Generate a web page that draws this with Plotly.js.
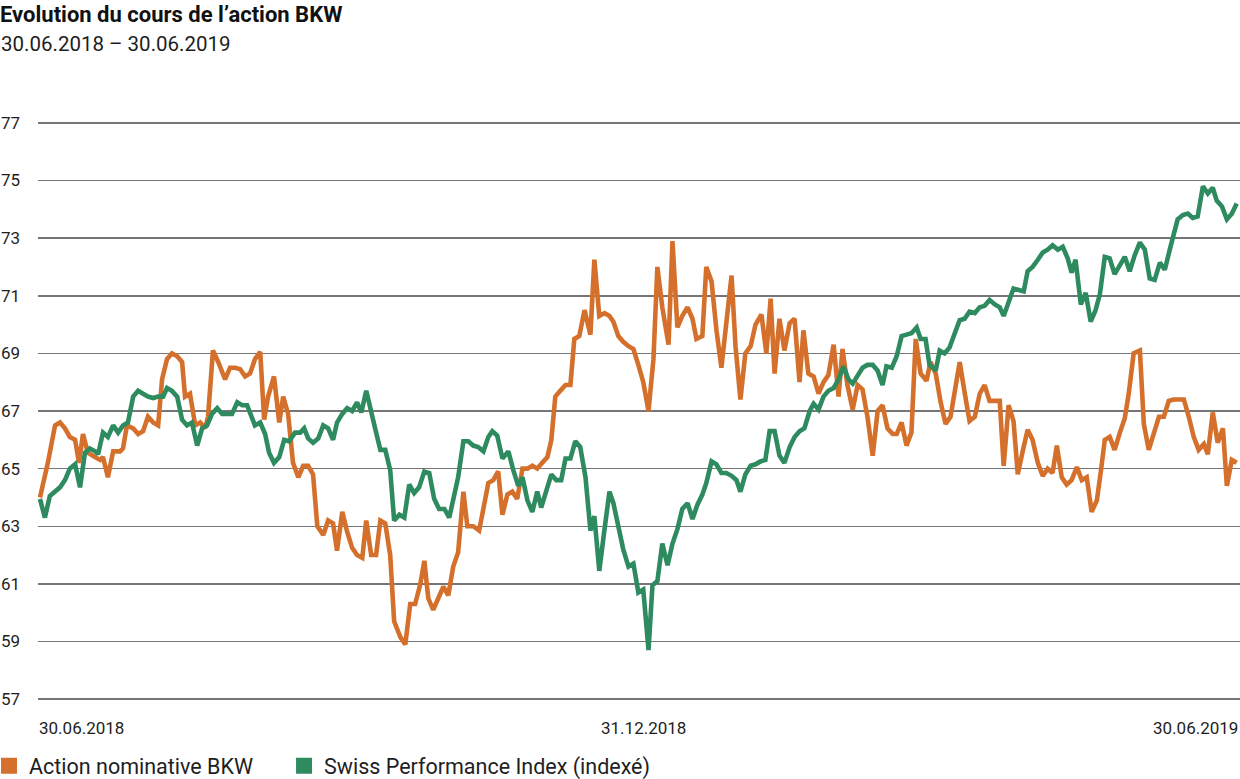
<!DOCTYPE html>
<html>
<head>
<meta charset="utf-8">
<script src="https://cdn.plot.ly/plotly-3.0.1.min.js"></script>
<style>
html,body{margin:0;padding:0;background:#fff;}
#chart{width:1240px;height:779px;}
</style>
</head>
<body>
<div id="chart"></div>
<script>
// Days since 30.06.2018 and values
var bkwDays = [0,2.4,4.6,6.1,7.6,9.1,10.7,11.9,13.1,14.6,16.8,18.3,19.2,20.7,22.3,24.4,25.3,26.5,28.4,29.9,31.4,32.9,34.5,36.0,37.2,38.7,40.2,41.8,43.3,44.2,45.7,47.3,48.8,50.3,51.2,52.7,54.3,56.4,57.9,59.5,61.0,62.5,64.0,65.5,67.1,68.3,69.5,71.3,72.9,74.1,75.6,77.1,78.7,80.2,81.7,83.2,84.5,86.3,87.8,89.3,90.5,92.1,93.6,95.1,96.6,98.2,99.4,100.9,102.4,103.7,105.2,106.7,107.9,109.8,111.3,112.8,114.3,115.9,117.1,118.3,119.8,121.3,122.9,124.4,125.9,127.4,129.0,130.2,132.0,133.8,135.1,136.6,138.1,139.6,140.9,142.4,143.9,145.4,147.0,148.5,150.0,151.5,153.0,154.6,155.8,157.0,158.5,160.1,161.6,162.8,164.3,165.9,167.7,168.9,170.4,172.0,173.5,174.7,176.2,177.7,179.3,180.8,182.3,183.8,185.4,186.9,188.1,189.6,191.5,192.7,194.2,195.7,197.3,198.8,200.0,201.8,203.0,204.6,206.1,207.6,209.1,210.7,211.9,213.4,214.9,216.5,218.0,219.8,221.3,222.6,223.8,225.3,226.8,228.4,229.9,231.4,232.6,234.1,235.7,237.2,238.7,240.2,241.8,243.3,244.5,246.0,247.6,249.1,250.6,252.1,253.7,255.2,256.7,258.2,259.8,261.0,262.5,264.0,265.5,266.8,268.3,270.1,271.3,272.9,274.4,275.9,277.4,279.0,280.2,281.7,283.2,284.8,286.3,287.8,289.3,290.9,292.4,293.6,295.1,296.6,297.9,299.4,300.9,302.4,304.0,305.5,307.0,308.5,309.8,311.3,312.8,314.3,315.9,317.4,318.9,320.4,322.0,323.2,324.4,325.9,327.4,329.0,330.5,331.7,333.2,335.1,336.3,337.8,339.3,340.9,342.4,343.9,345.4,347.0,348.5,350.0,351.5,353.0,354.6,355.8,357.3,358.8,360.4,361.6,363.1,364.6];
var bkwValues = [64.0,65.2,66.5,66.6,66.4,66.1,66.0,65.2,66.2,65.55,65.4,65.3,65.4,64.7,65.6,65.6,65.7,66.5,66.4,66.2,66.3,66.8,66.6,66.5,68.1,68.8,69.0,68.9,68.7,67.5,67.6,66.5,66.6,66.4,66.8,69.1,68.7,68.1,68.5,68.5,68.45,68.2,68.3,68.8,69.05,66.7,67.5,68.2,66.6,67.5,66.9,65.2,64.7,65.1,65.1,64.8,63.0,62.7,63.2,63.1,62.15,63.5,62.8,62.25,62.0,61.9,63.2,62.0,62.0,63.2,63.1,62.0,59.7,59.15,58.9,60.3,60.3,61.0,61.8,60.5,60.1,60.5,60.9,60.6,61.6,62.1,64.2,63.0,63.0,62.85,63.6,64.5,64.6,64.9,63.4,64.1,64.2,63.95,65.0,65.0,65.1,65.0,65.2,65.4,66.0,67.5,67.7,67.9,67.9,69.5,69.6,70.5,69.65,72.25,70.3,70.4,70.3,70.1,69.6,69.4,69.25,69.15,68.6,68.0,67.0,68.8,72.0,70.6,69.3,72.9,69.9,70.3,70.6,70.2,69.5,69.6,72.0,71.5,69.8,68.5,70.05,71.7,69.25,67.4,69.0,69.25,70.0,70.35,69.0,70.9,68.3,70.2,69.1,70.05,70.2,68.0,69.8,68.3,68.2,67.6,68.0,68.25,69.3,67.5,69.15,67.9,67.05,67.9,67.75,66.8,65.45,67.0,67.2,66.4,66.2,66.2,66.6,65.8,66.25,69.5,68.3,68.05,68.7,68.3,67.3,66.55,66.8,68.0,68.7,67.65,66.65,66.8,67.6,67.9,67.35,67.35,67.35,65.1,67.2,66.65,64.8,65.6,66.35,66.0,65.2,64.75,65.0,64.85,65.8,64.7,64.45,64.6,65.05,64.6,64.7,63.5,63.9,64.9,66.0,66.1,65.65,66.25,66.75,67.6,69.0,69.1,66.55,65.65,66.2,66.8,66.8,67.35,67.4,67.4,67.4,66.8,66.1,65.65,65.85,65.5,66.95,65.9,66.4,64.4,65.3,65.2];

var spiDays = [0,1.5,3.0,4.6,6.1,7.6,9.1,10.7,12.2,13.7,15.2,16.8,17.7,19.2,20.7,22.3,23.8,25.3,26.8,28.4,29.9,31.4,32.9,34.5,36.0,37.5,38.7,40.2,41.8,43.3,44.8,46.3,47.9,49.4,50.9,52.4,54.0,55.5,57.0,58.5,60.1,61.6,63.1,64.0,65.5,67.1,68.6,69.8,71.3,72.9,74.4,75.9,77.7,79.3,80.5,81.7,83.2,84.8,86.3,87.8,89.3,90.5,92.1,93.6,95.1,96.6,97.9,99.4,100.6,102.1,103.7,105.2,106.7,107.9,109.5,111.0,112.5,114.0,115.5,117.1,118.6,120.1,121.6,123.2,124.7,126.2,127.4,129.0,130.5,132.0,133.5,135.1,136.6,137.8,139.3,140.9,142.7,144.2,145.7,147.0,148.5,150.0,151.5,152.7,154.3,155.8,157.3,158.8,160.1,161.6,163.1,164.6,166.2,167.7,168.9,170.4,172.0,173.5,174.7,176.2,177.7,179.3,180.8,182.3,183.8,185.4,186.6,188.1,189.6,191.2,192.7,194.2,195.7,197.3,198.8,200.3,201.8,203.0,204.6,206.1,207.6,209.1,210.7,212.2,213.4,214.9,216.5,218.0,219.5,221.0,222.3,223.8,225.3,226.8,228.4,229.9,231.4,232.9,234.5,235.7,237.2,238.7,240.2,241.8,243.3,244.8,246.3,247.6,249.1,250.6,252.1,253.7,255.2,256.7,257.9,259.5,261.0,262.5,264.0,265.5,267.1,268.3,269.8,271.0,272.9,274.1,275.6,277.1,278.7,280.2,281.7,283.2,284.8,286.3,287.8,289.3,290.9,292.4,293.6,295.1,296.6,298.2,299.7,300.9,302.4,304.0,305.5,307.0,308.5,310.1,311.6,313.1,314.3,315.5,317.1,318.6,320.1,321.6,322.9,324.4,325.9,327.4,329.0,330.5,332.0,333.5,335.1,336.6,338.1,339.6,341.2,342.7,344.2,345.4,346.6,348.2,349.7,351.2,352.7,354.3,355.8,357.3,358.5,360.1,361.6,363.1,364.6];
var spiValues = [63.95,63.3,64.05,64.2,64.35,64.6,65.0,65.15,64.35,65.55,65.7,65.6,65.5,66.25,66.1,66.5,66.25,66.5,66.6,67.5,67.7,67.6,67.5,67.45,67.5,67.5,67.8,67.7,67.5,66.7,66.5,66.6,65.8,66.4,66.5,66.9,67.1,66.9,66.9,66.9,67.3,67.2,67.2,66.9,66.5,66.6,66.2,65.55,65.2,65.4,66.0,65.95,66.25,66.25,66.4,66.05,65.9,66.05,66.5,66.4,66.0,66.6,66.9,67.1,67.0,67.3,66.95,67.7,67.05,66.4,65.65,65.65,64.95,63.2,63.4,63.3,64.45,64.15,64.35,64.9,64.85,63.95,63.6,63.6,63.3,64.15,64.7,65.95,65.95,65.8,65.75,65.6,66.1,66.3,66.15,65.35,65.6,64.95,64.4,64.7,63.9,63.5,64.2,63.65,64.2,64.8,64.6,64.6,65.35,65.35,65.95,65.75,64.7,62.85,63.35,61.45,62.9,64.2,63.8,62.9,62.2,61.6,61.7,60.7,60.8,58.7,60.95,61.1,62.4,61.65,62.4,62.9,63.6,63.8,63.25,63.75,64.1,64.5,65.25,65.15,64.85,64.85,64.75,64.6,64.2,64.8,65.1,65.15,65.25,65.3,66.3,66.3,65.45,65.2,65.75,66.1,66.3,66.4,67.0,67.25,67.05,67.5,67.7,67.8,68.1,68.55,68.1,67.95,68.2,68.5,68.6,68.6,68.4,67.9,68.55,68.5,68.9,69.6,69.65,69.7,69.9,69.5,69.5,68.6,68.4,69.1,69.0,69.2,69.7,70.15,70.2,70.45,70.4,70.6,70.65,70.85,70.7,70.6,70.3,70.75,71.25,71.2,71.15,71.85,72.0,72.25,72.5,72.6,72.75,72.6,72.7,72.3,71.8,72.25,70.7,71.1,70.1,70.5,71.05,72.35,72.3,71.75,72.1,72.35,71.85,72.4,72.85,72.6,71.6,71.55,72.15,71.9,72.6,73.1,73.65,73.8,73.85,73.7,73.75,74.8,74.55,74.75,74.3,74.1,73.65,73.85,74.2];

var seriesNames = ['Action nominative BKW', 'Swiss Performance Index (indexé)'];
var seriesColors = ['#d4702c', '#2e8b5f'];
var yTicks = [57,59,61,63,65,67,69,71,73,75,77];
var xTickDays = [0, 184, 365];
var xTickLabels = ['30.06.2018', '31.12.2018', '30.06.2019'];
var titleText = 'Evolution du cours de l’action BKW';
var subtitleText = '30.06.2018 – 30.06.2019';

var FONT = 'Roboto, "Open Sans", sans-serif';
var TXT = '#1e1e1e';

var traces = [
  {x: bkwDays, y: bkwValues, type: 'scatter', mode: 'lines', line: {color: seriesColors[0], width: 4.6, shape: 'linear'}, showlegend: false, hoverinfo: 'skip'},
  {x: spiDays, y: spiValues, type: 'scatter', mode: 'lines', line: {color: seriesColors[1], width: 4.6, shape: 'linear'}, showlegend: false, hoverinfo: 'skip'},
  {x: [null], y: [null], type: 'scatter', mode: 'markers', name: seriesNames[0], legend: 'legend', marker: {symbol: 'square', size: 16, color: seriesColors[0]}},
  {x: [null], y: [null], type: 'scatter', mode: 'markers', name: seriesNames[1], legend: 'legend2', marker: {symbol: 'square', size: 16, color: seriesColors[1]}}
];

var annotations = [{
  text: subtitleText, xref: 'paper', yref: 'paper', x: 0, y: 1, xanchor: 'left', yanchor: 'middle',
  xshift: -39, yshift: 76, showarrow: false, font: {family: FONT, size: 20.5, color: TXT}
}];
for (var i = 0; i < xTickDays.length; i++) {
  annotations.push({
    text: xTickLabels[i], xref: 'x', yref: 'paper', x: xTickDays[i], y: 0,
    xanchor: i === 0 ? 'left' : (i === xTickDays.length - 1 ? 'right' : 'center'),
    yanchor: 'middle', yshift: -26, xshift: i === 0 ? -3 : (i === xTickDays.length - 1 ? 2 : 0),
    showarrow: false, font: {family: FONT, size: 17, color: TXT}
  });
}

var legendBase = {
  orientation: 'h', xref: 'paper', yref: 'container', xanchor: 'left',
  y: 0.017, yanchor: 'middle',
  font: {family: FONT, size: 21.5, color: TXT},
  bgcolor: 'rgba(0,0,0,0)', borderwidth: 0, itemclick: false, itemdoubleclick: false
};

var layout = {
  width: 1240, height: 779,
  paper_bgcolor: '#ffffff', plot_bgcolor: '#ffffff',
  margin: {l: 38, r: 0, t: 120.1, b: 77.1, pad: 0},
  font: {family: FONT, color: TXT},
  title: {
    text: '<b>' + titleText + '</b>', x: 0, xref: 'container', xanchor: 'left',
    y: 0.982, yref: 'container', yanchor: 'middle',
    font: {family: FONT, size: 22, color: '#111'}
  },
  xaxis: {
    range: [-0.6, 365.6], showgrid: false, zeroline: false, showline: false,
    showticklabels: false, ticks: '', fixedrange: true
  },
  yaxis: {
    range: [56.9, 77.1], tickvals: yTicks, ticktext: yTicks.map(String),
    showgrid: true, gridcolor: '#767676', gridwidth: 1.5,
    zeroline: false, showline: false, ticks: '', ticklabelstandoff: 17,
    tickfont: {family: FONT, size: 17, color: TXT}, fixedrange: true
  },
  showlegend: true,
  legend: Object.assign({}, legendBase, {x: -0.0316, indentation: -11}),
  legend2: Object.assign({}, legendBase, {x: 0.2047}),
  annotations: annotations
};

Plotly.newPlot('chart', traces, layout, {displayModeBar: false, staticPlot: true});
</script>
</body>
</html>
